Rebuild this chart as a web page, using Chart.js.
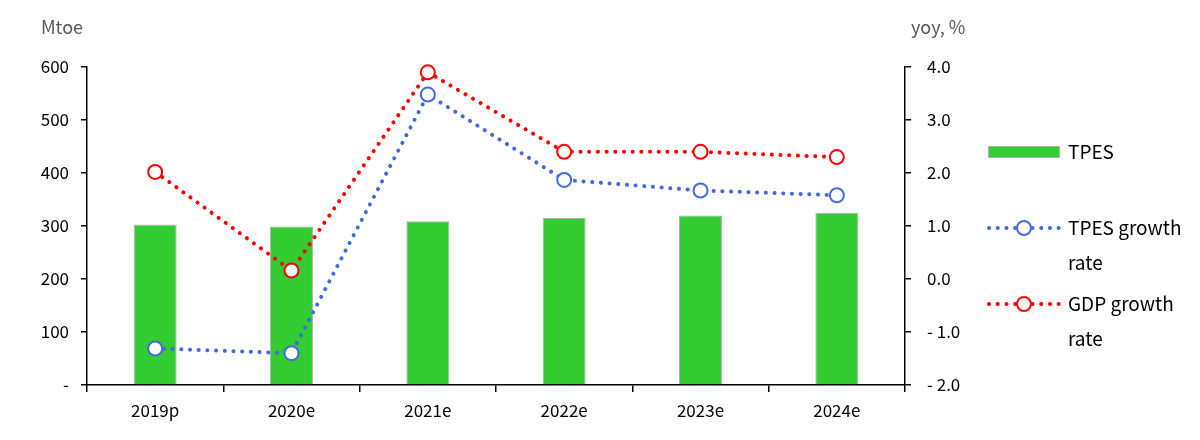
<!DOCTYPE html>
<html>
<head>
<meta charset="utf-8">
<script src="https://cdn.jsdelivr.net/npm/chart.js@4.4.1/dist/chart.umd.min.js"></script>
<style>
  html, body { margin: 0; padding: 0; background: #fff; }
  #wrap { width: 1200px; height: 440px; }
</style>
</head>
<body>
<div id="wrap"><canvas id="energyChart" width="1200" height="440"></canvas></div>
<script>
// data
const years = ['2019p', '2020e', '2021e', '2022e', '2023e', '2024e'];
const tpes = [303, 299, 309, 315, 320, 325];          // Mtoe
const tpesGrowth = [-1.31, -1.40, 3.48, 1.87, 1.67, 1.58]; // yoy %
const gdpGrowth = [2.02, 0.16, 3.90, 2.40, 2.40, 2.30];    // yoy %
const leftTicks = [0, 100, 200, 300, 400, 500, 600];
const rightTicks = [-2, -1, 0, 1, 2, 3, 4];

const FONT = "'Noto Sans CJK KR', 'Noto Sans', sans-serif";
const GREEN = '#33cc33';
const BLUE = '#4169e1';
const RED = '#ff0000';
const DOTS = [0.1, 8.6];

// titles + legend on the right
const extras = {
    id: 'extras',
    afterDraw(chart) {
        const c = chart.ctx;
        c.save();
        c.font = '18px ' + FONT;
        c.fillStyle = '#595959';
        c.textBaseline = 'middle';
        c.textAlign = 'left';
        c.fillText('Mtoe', 41, 27);
        c.fillText('yoy, %', 911, 27);

        c.font = '19px ' + FONT;
        // bar entry
        c.fillStyle = GREEN;
        c.fillRect(988, 146, 72, 12);
        c.strokeStyle = '#b0b0b0';
        c.lineWidth = 1;
        c.strokeRect(988.5, 146.5, 71, 11);
        c.fillStyle = '#000';
        c.fillText('TPES', 1068, 152);

        const lineEntry = (y, color, l1, l2) => {
            c.strokeStyle = color;
            c.lineWidth = 4;
            c.lineCap = 'round';
            c.setLineDash(DOTS);
            c.beginPath();
            c.moveTo(989, y);
            c.lineTo(1061, y);
            c.stroke();
            c.setLineDash([]);
            c.beginPath();
            c.arc(1024, y, 7, 0, Math.PI * 2);
            c.fillStyle = '#fff';
            c.fill();
            c.lineWidth = 2;
            c.stroke();
            c.fillStyle = '#000';
            c.fillText(l1, 1068, y);
            c.fillText(l2, 1068, y + 35);
        };
        lineEntry(228, BLUE, 'TPES growth', 'rate');
        lineEntry(304, RED, 'GDP growth', 'rate');
        c.restore();
    }
};

const lineStyle = (color) => ({
    type: 'line',
    yAxisID: 'y2',
    borderColor: color,
    borderWidth: 4,
    borderDash: DOTS,
    borderCapStyle: 'round',
    pointRadius: 7,
    pointBorderWidth: 2,
    pointBackgroundColor: '#fff',
    pointBorderColor: color,
    clip: false
});

const ctx = document.getElementById('energyChart').getContext('2d');
new Chart(ctx, {
    type: 'bar',
    data: {
        labels: years,
        datasets: [
            Object.assign(lineStyle(RED), { label: 'GDP growth rate', data: gdpGrowth, order: 0 }),
            Object.assign(lineStyle(BLUE), { label: 'TPES growth rate', data: tpesGrowth, order: 1 }),
            {
                label: 'TPES',
                data: tpes,
                yAxisID: 'y',
                backgroundColor: GREEN,
                borderColor: '#b0b0b0',
                borderWidth: { top: 1, left: 1, right: 1, bottom: 0 },
                borderSkipped: false,
                barPercentage: 0.315,
                categoryPercentage: 1,
                order: 2
            }
        ]
    },
    options: {
        responsive: false,
        animation: false,
        layout: { padding: { top: 67, left: 0, right: 0, bottom: 0 } },
        plugins: { legend: { display: false }, tooltip: { enabled: false } },
        scales: {
            x: {
                offset: true,
                grid: { offset: true, drawOnChartArea: false, tickLength: 7, color: '#000', lineWidth: 1.5 },
                border: { color: '#000', width: 1.5 },
                ticks: { color: '#000', font: { family: FONT, size: 17 }, padding: 8, maxRotation: 0 },
                afterFit(s) { s.height = 55; }
            },
            y: {
                position: 'left',
                min: 0, max: 600,
                afterBuildTicks(s) { s.ticks = leftTicks.map(v => ({ value: v })); },
                grid: { drawOnChartArea: false, tickLength: 6, color: '#000', lineWidth: 1.5 },
                border: { color: '#000', width: 1.5 },
                ticks: {
                    color: '#000', font: { family: FONT, size: 17 }, padding: 12,
                    callback: v => v === 0 ? '-' : v
                },
                afterFit(s) { s.width = 87; }
            },
            y2: {
                position: 'right',
                min: -2, max: 4,
                afterBuildTicks(s) { s.ticks = rightTicks.map(v => ({ value: v })); },
                grid: { drawOnChartArea: false, tickLength: 6, color: '#000', lineWidth: 1.5 },
                border: { color: '#000', width: 1.5 },
                ticks: {
                    color: '#000', font: { family: FONT, size: 17 }, padding: 16,
                    callback: v => v < 0 ? '- ' + Math.abs(v).toFixed(1) : v.toFixed(1)
                },
                afterFit(s) { s.width = 295; }
            }
        }
    },
    plugins: [extras]
});
</script>
</body>
</html>
